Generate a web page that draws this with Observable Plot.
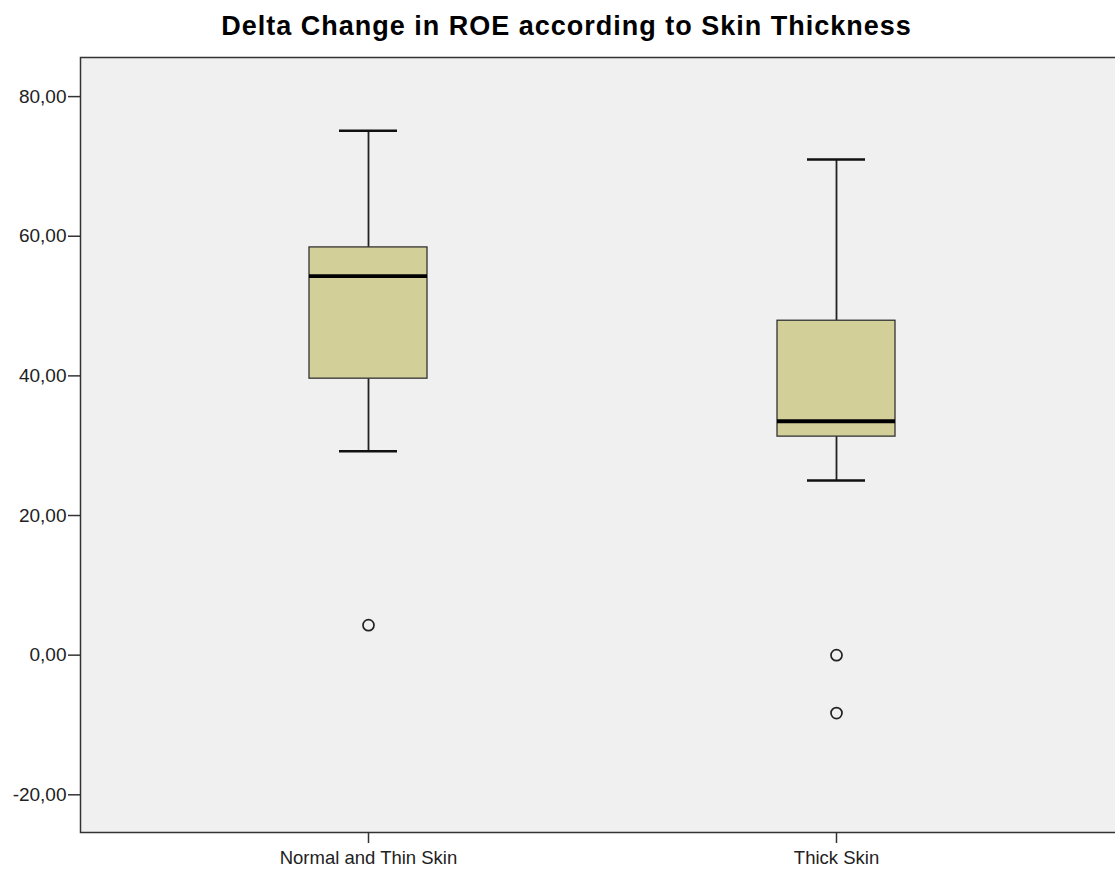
<!DOCTYPE html>
<html>
<head>
<meta charset="utf-8">
<script src="https://cdn.jsdelivr.net/npm/d3@7"></script>
<script src="https://cdn.jsdelivr.net/npm/@observablehq/plot@0.6"></script>
<style>
  html, body { margin: 0; padding: 0; background: #fff; }
  #title { height: 48px; width: 1115px; box-sizing: border-box; padding-left: 18px; text-align: center; font-family: "Liberation Sans", Arial, sans-serif; font-weight: bold; font-size: 27px; letter-spacing: 1px; line-height: 52px; color: #000; white-space: nowrap; }
</style>
</head>
<body>
<div id="title">Delta Change in ROE according to Skin Thickness</div>
<div id="chart"></div>
<script>
const categories = ["Normal and Thin Skin", "Thick Skin"];
const whiskerLow = [29.2, 25.0];
const q1 = [39.6, 31.3];
const median = [54.3, 33.5];
const q3 = [58.4, 47.9];
const whiskerHigh = [75.1, 71.0];
const outlierCategory = ["Normal and Thin Skin", "Thick Skin", "Thick Skin"];
const outlierValue = [4.3, 0.0, -8.3];
const yTicks = [-20, 0, 20, 40, 60, 80];

const boxes = categories.map((c, i) => ({cat: c, lo: whiskerLow[i], q1: q1[i], med: median[i], q3: q3[i], hi: whiskerHigh[i]}));
const outliers = outlierCategory.map((c, i) => ({cat: c, v: outlierValue[i]}));
const fmt = d => d3.format(".2f")(d).replace(".", ",").replace("−", "-");

const chart = Plot.plot({
  width: 1115,
  height: 825,
  marginTop: 9,
  marginBottom: 41,
  marginLeft: 80,
  marginRight: 0,
  style: {fontFamily: "'Liberation Sans', Arial, sans-serif", fontSize: "18.5px", color: "#222", background: "#fff", overflow: "hidden"},
  x: {domain: categories, paddingInner: 0.748, paddingOuter: 0.479, align: 0.51},
  y: {domain: [-25.4, 85.6]},
  marks: [
    Plot.frame({fill: "#f0f0f0", stroke: "#333", strokeWidth: 1.5, insetRight: -4}),
    Plot.ruleX(boxes, {x: "cat", y1: "lo", y2: "q1", stroke: "#222", strokeWidth: 1.8}),
    Plot.ruleX(boxes, {x: "cat", y1: "q3", y2: "hi", stroke: "#222", strokeWidth: 1.8}),
    Plot.tickY(boxes, {x: "cat", y: "lo", stroke: "#111", strokeWidth: 2.5, insetLeft: 30, insetRight: 30}),
    Plot.tickY(boxes, {x: "cat", y: "hi", stroke: "#111", strokeWidth: 2.5, insetLeft: 30, insetRight: 30}),
    Plot.barY(boxes, {x: "cat", y1: "q1", y2: "q3", fill: "#d3cf98", stroke: "#333", strokeWidth: 1.3}),
    Plot.tickY(boxes, {x: "cat", y: "med", stroke: "#000", strokeWidth: 3.8}),
    Plot.dot(outliers, {x: "cat", y: "v", r: 5.5, stroke: "#222", strokeWidth: 1.7, fill: "none"}),
    Plot.axisY({ticks: yTicks, tickFormat: fmt, tickSize: 12, tickPadding: 2, label: null, stroke: "#333", strokeWidth: 1.5, fontSize: 19}),
    Plot.axisX({tickSize: 11, tickPadding: 7, label: null, stroke: "#333", strokeWidth: 1.5})
  ]
});
document.getElementById("chart").appendChild(chart);
</script>
</body>
</html>
